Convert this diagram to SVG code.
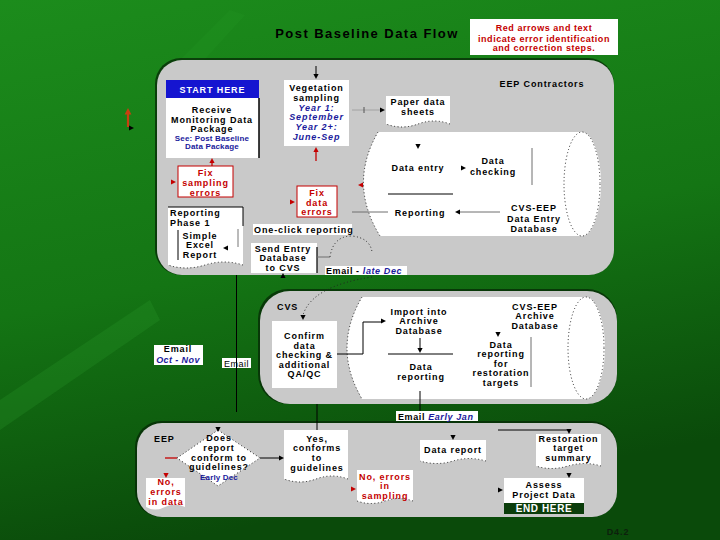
<svg xmlns="http://www.w3.org/2000/svg" xmlns:xlink="http://www.w3.org/1999/xlink" width="720" height="540" viewBox="0 0 720 540">
<defs>
<linearGradient id="bg" x1="0" y1="0" x2="0.25" y2="1">
<stop offset="0" stop-color="#1c8c1c"/>
<stop offset="0.55" stop-color="#147514"/>
<stop offset="1" stop-color="#0a4a0a"/>
</linearGradient>
<path id="hd" d="M0,0 L-5,-2.6 L-5,2.6 Z"/>
</defs>
<style>
text{font-family:"Liberation Sans",Arial,sans-serif;font-weight:bold;font-size:9px;letter-spacing:0.9px;fill:#000;text-anchor:middle}
.b{fill:#1a1a9c;font-style:italic}
.bl{fill:#1a1a9c}
.r{fill:#c40000}
.s{font-size:8px;letter-spacing:0.15px}
.l{text-anchor:start}
.n{font-weight:normal}
.panel{fill:#c9c9c9}
.shadow{fill:#052805;opacity:0.75}
.w{fill:#fff}
.ln{stroke:#000;stroke-width:1;fill:none}
.gl{stroke:#6e6e6e;stroke-width:1;fill:none}
.fl{stroke:#9a9a9a;stroke-width:0.8;fill:none}
.rl{stroke:#c40000;stroke-width:1.3;fill:none}
.dot{stroke:#222;stroke-width:1;stroke-dasharray:1 2.5;fill:none}
.rb{fill:#fff;stroke:#c40000;stroke-width:1}
.hk{fill:#000}
.hr{fill:#c40000}
</style>

<rect x="0" y="0" width="720" height="540" fill="url(#bg)"/>
<path d="M0,400 L150,300 L160,320 L0,430 Z" fill="#2a9a2a" opacity="0.25"/>
<path d="M180,60 L230,10 L245,15 L195,70 Z" fill="#2a9a2a" opacity="0.2"/>

<text x="367" y="38" style="font-size:13px;letter-spacing:1.45px" fill="#111">Post Baseline Data Flow</text>

<g id="legend">
<rect x="470" y="19" width="148" height="36" fill="#fff"/>
<text x="544" y="31" class="r" style="font-size:9px;letter-spacing:0.55px">Red arrows and text</text>
<text x="544" y="41.5" class="r" style="font-size:9px;letter-spacing:0.55px">indicate error identification</text>
<text x="544" y="51" class="r" style="font-size:9px;letter-spacing:0.55px">and correction steps.</text>
</g>

<g id="panel-eep-contractors">
<rect x="155" y="58" width="459" height="217" rx="26" class="shadow"/>
<rect x="157" y="60" width="457" height="215" rx="25" class="panel"/>
<path d="M378,132 H582 A19,52 0 0 1 582,236 H380 Q348,184 378,132 Z" class="w"/>
<path d="M378,132 Q348,184 380,236" class="dot"/>
<ellipse cx="582" cy="184" rx="18" ry="52" class="dot"/>
<line x1="532" y1="148" x2="532" y2="185" class="gl"/>
<text x="542" y="87">EEP Contractors</text>
</g>

<g id="panel-cvs">
<rect x="258" y="289" width="359" height="115" rx="30" class="shadow"/>
<rect x="260" y="291" width="357" height="113" rx="30" class="panel"/>
<path d="M362,297 H586 A19,51 0 0 1 586,399 H362 Q332,348 362,297 Z" class="w"/>
<path d="M362,297 Q332,348 362,399" class="dot"/>
<ellipse cx="586" cy="348" rx="18" ry="51" class="dot"/>
<line x1="531" y1="337" x2="531" y2="387" class="gl"/>
<text x="277" y="310" class="l">CVS</text>
</g>

<g id="panel-eep">
<rect x="135" y="421" width="482" height="96" rx="26" class="shadow"/>
<rect x="137" y="423" width="480" height="94" rx="25" class="panel"/>
<text x="154" y="442" class="l">EEP</text>
</g>

<g id="start">
<rect x="166" y="80" width="93" height="18" fill="#1515d0"/>
<text x="212.5" y="92.5" style="fill:#fff">START HERE</text>
<rect x="166" y="98" width="93" height="60" class="w"/>
<line x1="259" y1="98" x2="259" y2="158" stroke="#000" stroke-width="1.5"/>
<text x="212" y="112.5">Receive</text>
<text x="212" y="122.5">Monitoring Data</text>
<text x="212" y="132">Package</text>
<text x="212" y="140.5" class="bl s">See: Post Baseline</text>
<text x="212" y="149" class="bl s">Data Package</text>
</g>

<g id="vegetation">
<rect x="284" y="80" width="65" height="66" class="w"/>
<text x="316.5" y="91">Vegetation</text>
<text x="316.5" y="100.8">sampling</text>
<text x="316.5" y="110.6" class="b">Year 1:</text>
<text x="316.5" y="120.4" class="b">September</text>
<text x="316.5" y="130.2" class="b">Year 2+:</text>
<text x="316.5" y="140" class="b">June-Sep</text>
</g>

<g id="paper-sheets">
<path d="M386,96 H450 V124 Q434,118 418,124 T386,124 Z" class="w"/>
<path d="M450,124 Q434,118 418,124 T386,124" class="dot"/>
<text x="418" y="105">Paper data</text>
<text x="418" y="114.5">sheets</text>
</g>

<g id="data-entry"><text x="418" y="170.5">Data entry</text></g>
<g id="data-checking">
<text x="493" y="164">Data</text>
<text x="493" y="174.5">checking</text>
</g>
<g id="reporting"><text x="420" y="215.5">Reporting</text></g>
<g id="data-entry-db">
<text x="534" y="211">CVS-EEP</text>
<text x="534" y="221.5">Data Entry</text>
<text x="534" y="232">Database</text>
</g>

<g id="fix-sampling">
<rect x="178" y="166" width="55" height="31" class="rb"/>
<text x="205.5" y="176" class="r">Fix</text>
<text x="205.5" y="186" class="r">sampling</text>
<text x="205.5" y="195.5" class="r">errors</text>
</g>

<g id="fix-data">
<rect x="297" y="186" width="40" height="31" class="rb"/>
<text x="317" y="195.5" class="r">Fix</text>
<text x="317" y="205.5" class="r">data</text>
<text x="317" y="215" class="r">errors</text>
</g>

<g id="reporting-phase1">
<path d="M168,207 H243 V265 Q224,259 205,265 T168,265 Z" class="w"/>
<path d="M243,265 Q224,259 205,265 T168,265" class="dot"/>
<line x1="168" y1="207" x2="243" y2="207" stroke="#000" stroke-width="1"/>
<line x1="243" y1="207" x2="243" y2="226" stroke="#000" stroke-width="1"/>
<text x="170" y="216" class="l">Reporting</text>
<text x="170" y="225.5" class="l">Phase 1</text>
<line x1="178" y1="230" x2="178" y2="260" stroke="#000" stroke-width="1"/>
<line x1="238" y1="229" x2="238" y2="247" stroke="#777" stroke-width="1"/>
<text x="200" y="238.5">Simple</text>
<text x="200" y="248">Excel</text>
<text x="200" y="257.5">Report</text>
</g>

<g id="one-click">
<rect x="253" y="224" width="99" height="11" class="w"/>
<text x="254" y="233" class="l">One-click reporting</text>
</g>

<g id="send-entry">
<rect x="251" y="243" width="66" height="30" class="w"/>
<line x1="317" y1="247" x2="317" y2="273" stroke="#000" stroke-width="1.2"/>
<text x="283" y="251.5">Send Entry</text>
<text x="283" y="261">Database</text>
<text x="283" y="270.5">to CVS</text>
</g>

<g id="email-late-dec">
<rect x="325" y="266" width="82" height="9" class="w"/>
<text x="326" y="274" class="l" style="font-size:9px;letter-spacing:0.6px">Email - <tspan class="b">late Dec</tspan></text>
</g>

<g id="email-oct-nov">
<rect x="154" y="345" width="49" height="20" class="w"/>
<text x="178" y="352">Email</text>
<text x="178" y="363" class="b" style="font-size:9px;letter-spacing:0.4px">Oct - Nov</text>
</g>

<g id="confirm">
<rect x="272" y="321" width="65" height="67" class="w"/>
<text x="304.5" y="339">Confirm</text>
<text x="304.5" y="348.5">data</text>
<text x="304.5" y="358">checking &amp;</text>
<text x="304.5" y="367.5">additional</text>
<text x="304.5" y="377">QA/QC</text>
</g>

<g id="import-archive">
<text x="419" y="314.5">Import into</text>
<text x="419" y="324">Archive</text>
<text x="419" y="333.5">Database</text>
</g>
<g id="data-reporting"><text x="421" y="369.5">Data</text><text x="421" y="379.5">reporting</text></g>
<g id="archive-db">
<text x="535" y="309.5">CVS-EEP</text>
<text x="535" y="319">Archive</text>
<text x="535" y="328.5">Database</text>
</g>
<g id="restoration-reporting">
<text x="501" y="347.5">Data</text>
<text x="501" y="357">reporting</text>
<text x="501" y="366.5">for</text>
<text x="501" y="376">restoration</text>
<text x="501" y="386">targets</text>
</g>

<g id="email-early-jan">
<rect x="396" y="411" width="82" height="10" class="w"/>
<text x="398" y="419.5" class="l" style="font-size:9px;letter-spacing:0.6px">Email <tspan class="b">Early Jan</tspan></text>
</g>

<g id="email">
<rect x="222" y="358" width="29" height="10" class="w"/>
<text x="236.5" y="366.5" class="n" style="letter-spacing:0.5px">Email</text>
</g>

<g id="decision">
<path d="M218,430 L260,458 L218,486 L177,458 Z" class="w"/>
<path d="M218,430 L260,458 L218,486 L177,458 Z" class="dot"/>
<text x="219" y="441">Does</text>
<text x="219" y="451">report</text>
<text x="219" y="460.5">conform to</text>
<text x="219" y="470">guidelines?</text>
<text x="219" y="480" class="bl s">Early Dec</text>
</g>

<g id="conforms">
<path d="M284,430 H348 V479 Q332,473 316,479 T284,479 Z" class="w"/>
<path d="M348,479 Q332,473 316,479 T284,479" class="dot"/>
<text x="317" y="441.5">Yes,</text>
<text x="317" y="451">conforms</text>
<text x="317" y="461">to</text>
<text x="317" y="470.5">guidelines</text>
</g>

<g id="errors-data">
<path d="M146,478 H185 V507 Q175,502 165,507 T146,507 Z" class="w"/>
<text x="166" y="485" class="r">No,</text>
<text x="166" y="495" class="r">errors</text>
<text x="166" y="505" class="r">in data</text>
</g>

<g id="errors-sampling">
<path d="M357,470 H413 V501 Q399,496 385,501 T357,501 Z" class="w"/>
<path d="M413,501 Q399,496 385,501 T357,501" class="dot"/>
<text x="385" y="479.5" class="r">No, errors</text>
<text x="385" y="489" class="r">in</text>
<text x="385" y="498.5" class="r">sampling</text>
</g>

<g id="data-report">
<path d="M420,440 H486 V461 Q469,456 453,461 T420,461 Z" class="w"/>
<path d="M486,461 Q469,456 453,461 T420,461" class="dot"/>
<text x="453" y="453">Data report</text>
</g>

<g id="restoration-summary">
<path d="M536,434 H601 V466 Q585,461 568,466 T536,466 Z" class="w"/>
<path d="M601,466 Q585,461 568,466 T536,466" class="dot"/>
<text x="568.5" y="441.5">Restoration</text>
<text x="568.5" y="451">target</text>
<text x="568.5" y="461">summary</text>
</g>

<g id="assess">
<rect x="504" y="478" width="80" height="25" class="w"/>
<rect x="504" y="503" width="80" height="11" fill="#0b3d0b"/>
<text x="544" y="488">Assess</text>
<text x="544" y="498">Project Data</text>
<text x="544" y="512" style="fill:#fff;font-size:10px;letter-spacing:0.6px">END HERE</text>
</g>

<g id="page-number"><text x="618" y="535" style="fill:#0d1f0d;font-size:9px">D4.2</text></g>

<g id="connectors">
<line x1="316" y1="66" x2="316" y2="77" class="ln"/>
<use xlink:href="#hd" class="hk" transform="translate(316,79) rotate(90)"/>
<line x1="316" y1="161" x2="316" y2="150" class="rl"/>
<use xlink:href="#hd" class="hr" transform="translate(316,147) rotate(-90)"/>
<line x1="352" y1="110" x2="380" y2="110" class="fl"/>
<line x1="364" y1="107" x2="364" y2="113" stroke="#555" stroke-width="1"/>
<use xlink:href="#hd" class="hk" transform="translate(385,110)"/>
<use xlink:href="#hd" class="hk" transform="translate(418,149) rotate(90)"/>
<use xlink:href="#hd" class="hk" transform="translate(466,168)"/>
<line x1="388" y1="194" x2="453" y2="194" class="ln"/>
<line x1="352" y1="212" x2="388" y2="212" class="gl"/>
<line x1="500" y1="212" x2="458" y2="212" class="gl"/>
<use xlink:href="#hd" class="hk" transform="translate(455,212) rotate(180)"/>
<line x1="212" y1="166" x2="212" y2="161" class="rl"/>
<use xlink:href="#hd" class="hr" transform="translate(212,158) rotate(-90)"/>
<use xlink:href="#hd" class="hr" transform="translate(176,182)"/>
<use xlink:href="#hd" class="hr" transform="translate(295,202)"/>
<use xlink:href="#hd" class="hr" transform="translate(358,185) rotate(180)"/>
<use xlink:href="#hd" class="hk" transform="translate(223,248) rotate(180)"/>
<line x1="317" y1="257" x2="330" y2="257" class="gl"/>
<path d="M330,257 Q333,236 352,236 Q370,238 372,252" class="dot"/>
<use xlink:href="#hd" class="hk" transform="translate(283,273) rotate(-90)"/>
<path d="M372,277 Q312,286 303,315" class="dot"/>
<use xlink:href="#hd" class="hk" transform="translate(303,320) rotate(90)"/>
<line x1="236.5" y1="275" x2="236.5" y2="412" class="ln"/>
<path d="M337,354 H363 V322 H382" class="ln"/>
<use xlink:href="#hd" class="hk" transform="translate(386,321)"/>
<line x1="420" y1="338" x2="420" y2="350" class="ln"/>
<use xlink:href="#hd" class="hk" transform="translate(420,353) rotate(90)"/>
<line x1="388" y1="354" x2="453" y2="354" class="ln"/>
<line x1="420" y1="391" x2="420" y2="411" class="ln"/>
<use xlink:href="#hd" class="hk" transform="translate(498,337) rotate(90)"/>
<path d="M498,430 H569 V431" class="ln"/>
<use xlink:href="#hd" class="hk" transform="translate(569,434) rotate(90)"/>
<line x1="317" y1="404" x2="317" y2="430" class="ln"/>
<use xlink:href="#hd" class="hk" transform="translate(218,432) rotate(90)"/>
<line x1="165" y1="458" x2="177" y2="458" class="rl"/>
<line x1="260" y1="458" x2="280" y2="458" class="ln"/>
<use xlink:href="#hd" class="hk" transform="translate(284,458)"/>
<use xlink:href="#hd" class="hr" transform="translate(166,478) rotate(90)"/>
<use xlink:href="#hd" class="hr" transform="translate(356,489)"/>
<use xlink:href="#hd" class="hk" transform="translate(453,440) rotate(90)"/>
<use xlink:href="#hd" class="hk" transform="translate(569,478) rotate(90)"/>
<use xlink:href="#hd" class="hk" transform="translate(503,490)"/>
<line x1="128" y1="127" x2="128" y2="113" stroke="#c84010" stroke-width="2.2"/>
<use xlink:href="#hd" fill="#c84010" transform="translate(128,108) rotate(-90) scale(1.3)"/>
<use xlink:href="#hd" class="hk" transform="translate(134,128)"/>
</g>
</svg>
